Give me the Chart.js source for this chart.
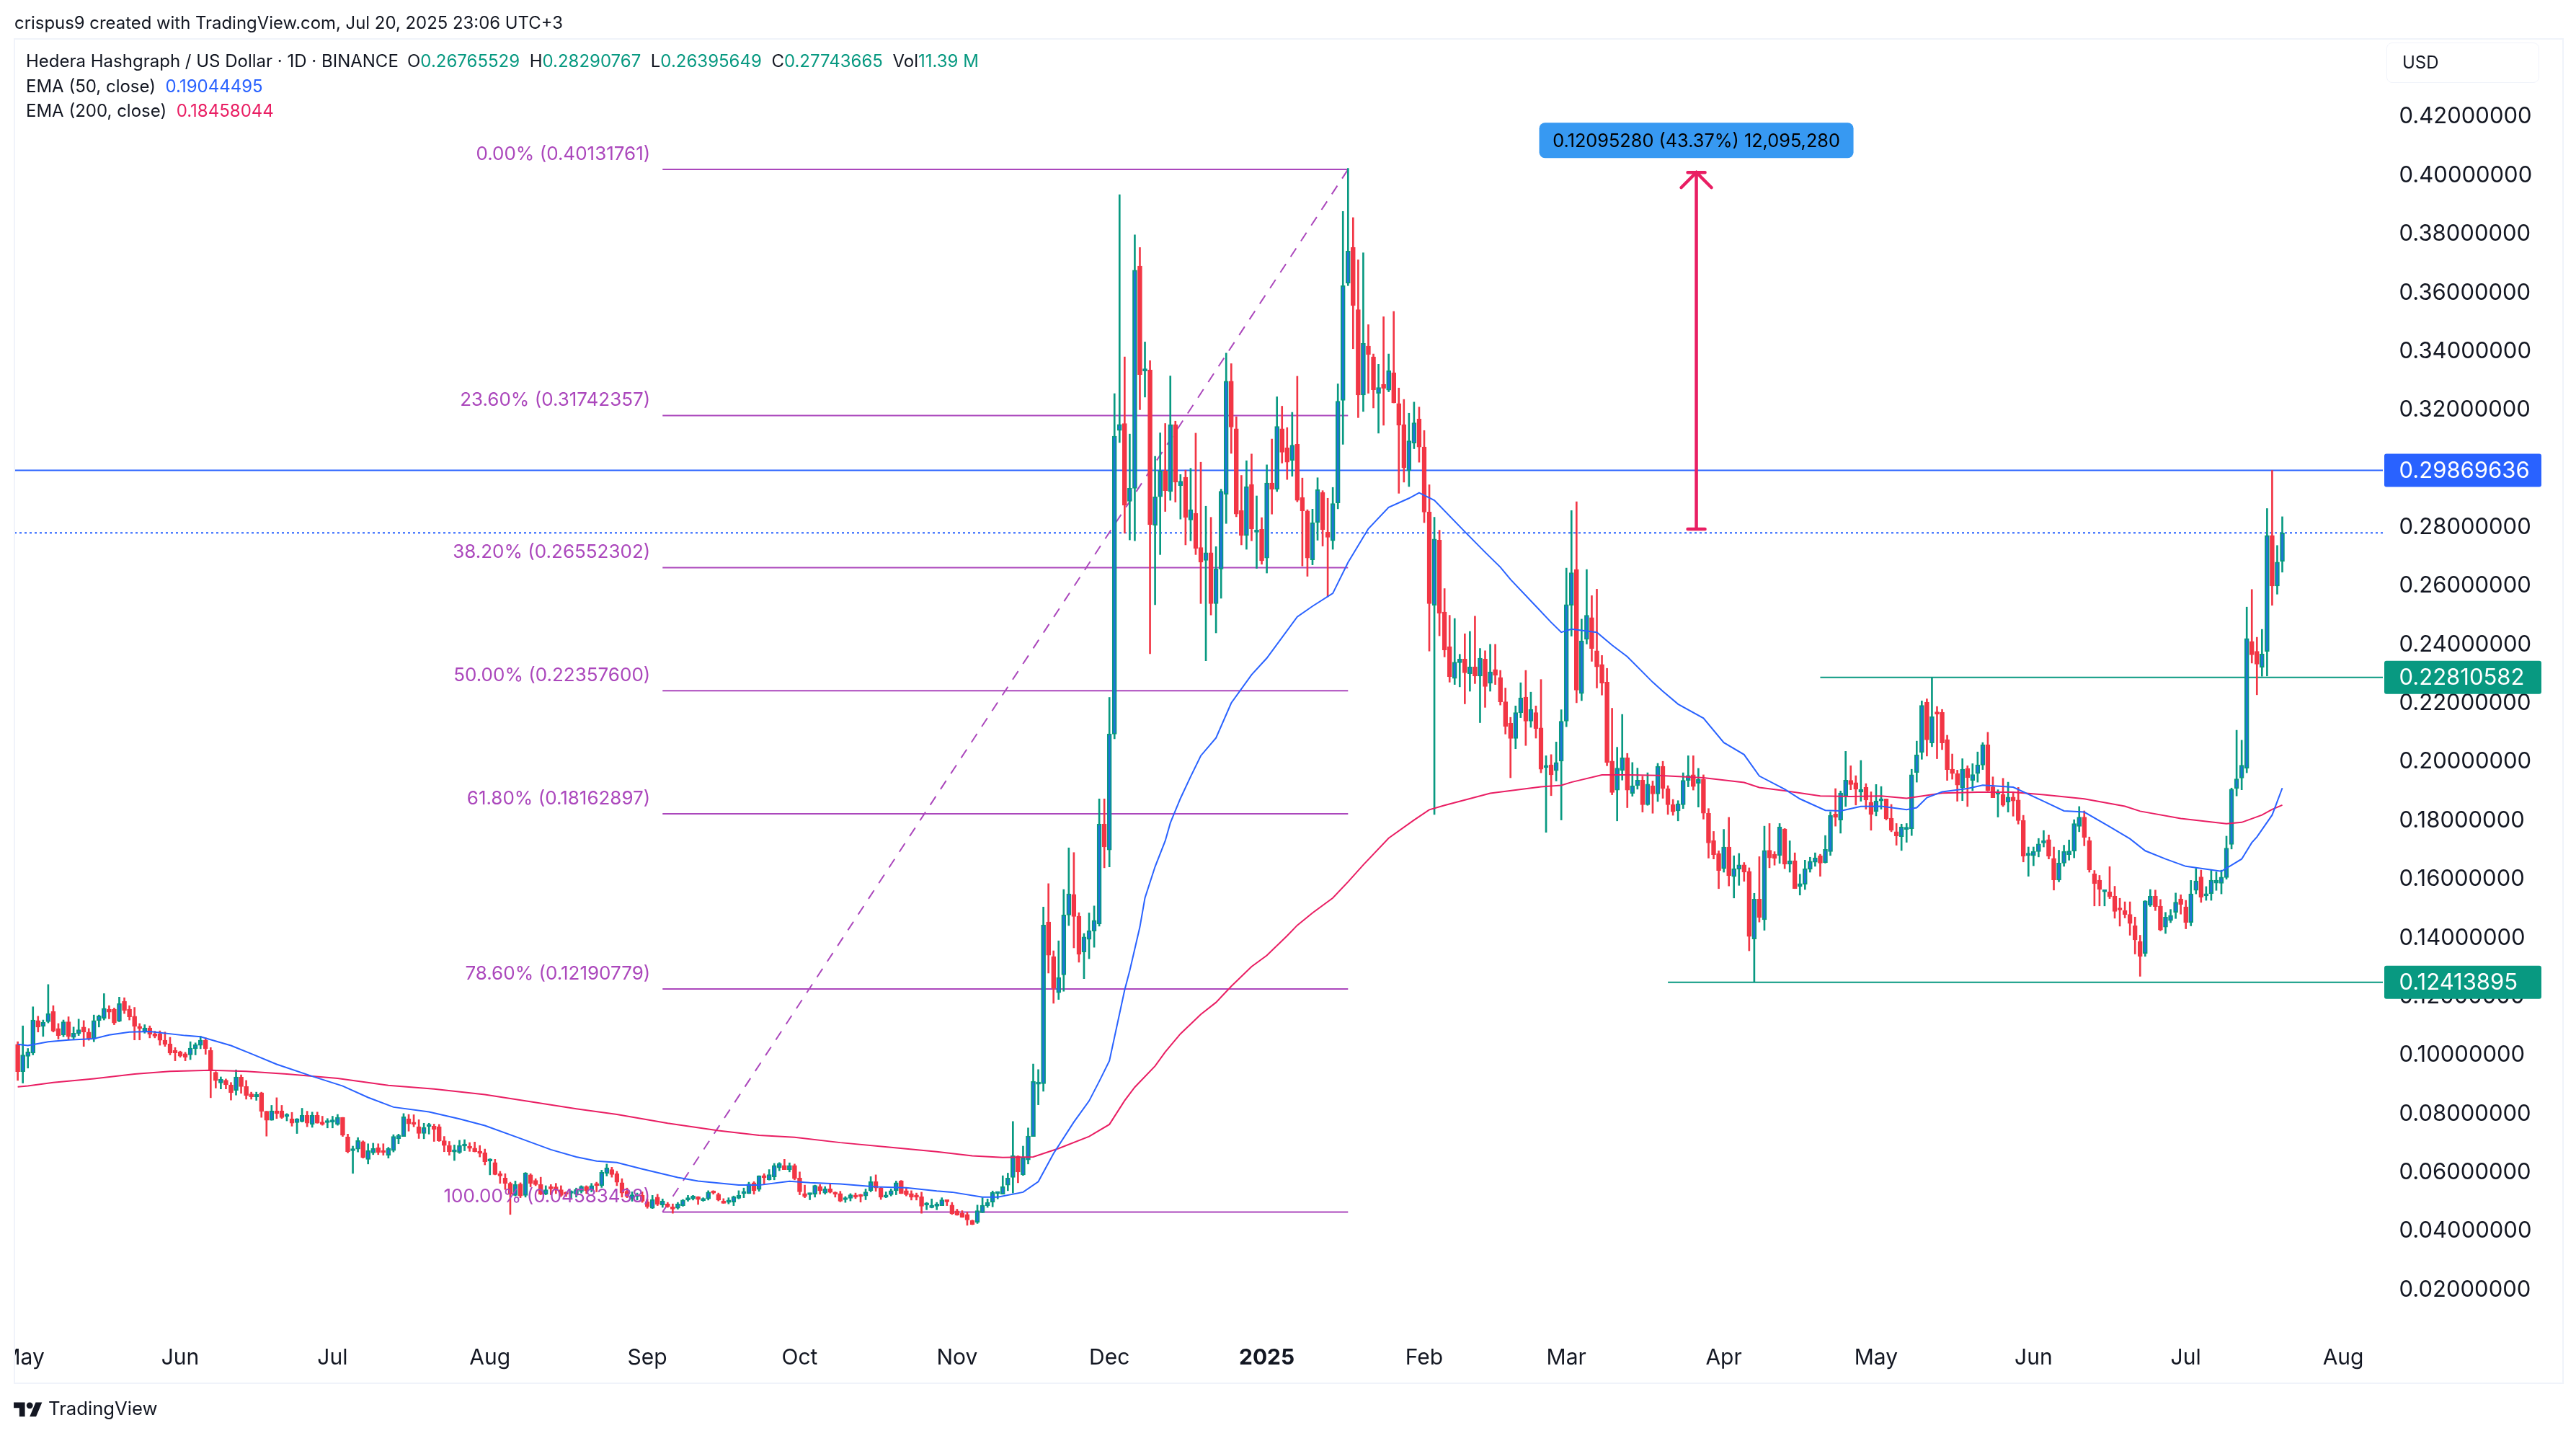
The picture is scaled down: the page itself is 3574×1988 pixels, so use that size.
<!DOCTYPE html>
<html>
<head>
<meta charset="utf-8">
<title>HBAR / USD</title>
<script src="https://cdn.jsdelivr.net/npm/chart.js@4"></script>
<style>
  html, body { margin: 0; padding: 0; background: #fff; }
  body { width: 3574px; height: 1988px; position: relative; overflow: hidden; font-family: Inter, sans-serif; color: #131722; }
  canvas { position: absolute; left: 0; top: 0; }
  .txt { position: absolute; white-space: pre; font-size: 24px; line-height: 30px; }
  .up { color: #089981; }
  #frame { position: absolute; left: 19px; top: 53px; width: 3534px; height: 1863px; border: 2px solid #F0F3FA; }
  #leftStrip { position: absolute; left: 0; top: 1860px; width: 20px; height: 56px; background: #fff; }
  #usd { position: absolute; left: 3311px; top: 59px; width: 210px; height: 54px; border: 1px solid #F0F3FA; border-radius: 8px; font-size: 24px; line-height: 54px; text-indent: 21px; }
  #logo { position: absolute; left: 19px; top: 1941px; }
</style>
</head>
<body>
<canvas id="priceChart" width="3574" height="1988"></canvas>
<div id="leftStrip"></div>
<div id="frame"></div>
<div class="txt" style="left:20px;top:17px;font-size:23.9px;">crispus9 created with TradingView.com, Jul 20, 2025 23:06 UTC+3</div>
<div class="txt" style="left:36px;top:70px;">Hedera Hashgraph / US Dollar · 1D · BINANCE</div>
<div class="txt" style="left:565px;top:70px;">O<span class="up">0.26765529</span>  H<span class="up">0.28290767</span>  L<span class="up">0.26395649</span>  C<span class="up">0.27743665</span>  Vol<span class="up">11.39 M</span></div>
<div class="txt" style="left:36px;top:105px;">EMA (50, close)  <span style="color:#2962FF">0.19044495</span></div>
<div class="txt" style="left:36px;top:139px;">EMA (200, close)  <span style="color:#E91E63">0.18458044</span></div>
<div id="usd">USD</div>
<svg id="logo" width="40" height="31" viewBox="0 0 36 28"><path fill="#131722" d="M14 22H7V11H0V4h14v18zM28 22h-8l7.5-18h8L28 22z"/><circle fill="#131722" cx="20" cy="8" r="4"/></svg>
<div class="txt" style="left:67px;top:1939px;font-size:25.7px;">TradingView</div>

<script>
// candle values. candle number = position in the array + 1
const opens = [
  .1030,.0937,.0989,.1000,.1111,.1091,.1107,.1142,.1084,.1062,
  .1107,.1054,.1066,.1089,.1072,.1048,.1111,.1119,.1150,.1150,
  .1109,.1177,.1150,.1126,.1088,.1072,.1086,.1062,.1066,.1044,
  .1031,.1009,.1004,.0998,.0994,.1015,.1027,.1044,.1009,.0935,
  .0898,.0908,.0892,.0873,.0918,.0886,.0861,.0851,.0865,.0802,
  .0771,.0803,.0803,.0784,.0776,.0763,.0767,.0788,.0757,.0788,
  .0765,.0763,.0765,.0757,.0781,.0714,.0667,.0673,.0698,.0638,
  .0660,.0677,.0665,.0652,.0668,.0708,.0716,.0776,.0761,.0749,
  .0726,.0750,.0751,.0749,.0701,.0685,.0663,.0661,.0683,.0683,
  .0676,.0665,.0660,.0632,.0627,.0589,.0574,.0556,.0515,.0554,
  .0515,.0585,.0566,.0552,.0519,.0541,.0544,.0534,.0523,.0522,
  .0519,.0529,.0545,.0534,.0552,.0548,.0590,.0603,.0589,.0558,
  .0529,.0503,.0511,.0515,.0493,.0471,.0509,.0482,.0486,.0476,
  .0471,.0480,.0499,.0503,.0511,.0497,.0503,.0529,.0519,.0496,
  .0491,.0492,.0505,.0521,.0521,.0558,.0535,.0579,.0568,.0578,
  .0609,.0617,.0603,.0617,.0574,.0521,.0517,.0519,.0545,.0523,
  .0537,.0522,.0521,.0500,.0505,.0513,.0513,.0513,.0531,.0562,
  .0541,.0509,.0517,.0531,.0564,.0531,.0521,.0513,.0511,.0482,
  .0473,.0478,.0480,.0496,.0482,.0462,.0454,.0450,.0429,.0423,
  .0456,.0480,.0492,.0521,.0519,.0550,.0576,.0649,.0585,.0636,
  .0716,.0894,.0896,.1447,.1329,.1206,.1267,.1471,.1541,.1467,
  .1345,.1388,.1416,.1441,.1781,.1693,.2088,.3123,.3147,.2882,
  .2926,.3684,.3326,.3329,.2800,.2897,.2985,.2915,.3143,.2935,
  .2964,.2818,.2841,.2724,.2680,.2706,.2533,.2651,.2906,.3291,
  .3129,.2850,.2765,.2939,.2776,.2786,.2688,.2944,.2923,.3129,
  .3064,.3021,.3076,.2894,.2849,.2682,.2809,.2912,.2776,.2747,
  .2876,.3226,.3625,.3747,.3535,.3244,.3411,.3374,.3250,.3280,
  .3261,.3320,.3215,.3143,.2986,.3080,.3162,.3067,.2845,.2527,
  .2749,.2504,.2386,.2278,.2331,.2344,.2294,.2317,.2286,.2344,
  .2261,.2308,.2281,.2198,.2125,.2073,.2161,.2214,.2132,.2161,
  .2109,.1974,.1983,.1963,.1996,.2132,.2527,.2649,.2226,.2411,
  .2485,.2372,.2325,.2265,.1996,.1897,.1964,.2007,.1886,.1912,
  .1931,.1847,.1912,.1884,.1978,.1902,.1847,.1826,.1847,.1930,
  .1949,.1920,.1933,.1818,.1725,.1681,.1629,.1703,.1602,.1627,
  .1642,.1620,.1389,.1525,.1455,.1692,.1678,.1674,.1764,.1644,
  .1656,.1568,.1576,.1627,.1651,.1673,.1650,.1687,.1815,.1795,
  .1877,.1930,.1922,.1890,.1906,.1855,.1824,.1860,.1867,.1801,
  .1755,.1738,.1763,.1765,.1957,.2025,.2197,.2058,.2160,.2162,
  .2069,.1968,.1953,.1905,.1971,.1930,.1953,.1982,.2051,.1908,
  .1883,.1882,.1856,.1873,.1863,.1793,.1674,.1673,.1687,.1717,
  .1728,.1664,.1590,.1648,.1677,.1689,.1773,.1805,.1725,.1611,
  .1590,.1550,.1550,.1535,.1494,.1486,.1473,.1434,.1381,.1340,
  .1505,.1535,.1501,.1430,.1452,.1480,.1526,.1499,.1446,.1555,
  .1601,.1536,.1544,.1580,.1579,.1599,.1712,.1902,.1938,.1971,
  .2404,.2370,.2316,.2370,.2765,.2593,.2677
];
const highs = [
  .1039,.1093,.1016,.1158,.1126,.1113,.1234,.1162,.1101,.1113,
  .1124,.1089,.1116,.1111,.1084,.1130,.1130,.1203,.1162,.1154,
  .1191,.1189,.1162,.1156,.1101,.1097,.1093,.1075,.1076,.1072,
  .1054,.1019,.1007,.1003,.1039,.1035,.1058,.1052,.1019,.0937,
  .0919,.0912,.0900,.0943,.0926,.0907,.0867,.0867,.0867,.0802,
  .0822,.0848,.0822,.0794,.0798,.0777,.0812,.0802,.0799,.0799,
  .0785,.0777,.0785,.0791,.0781,.0724,.0683,.0712,.0701,.0691,
  .0693,.0691,.0691,.0679,.0722,.0724,.0794,.0791,.0790,.0773,
  .0761,.0761,.0758,.0757,.0716,.0699,.0687,.0703,.0705,.0695,
  .0697,.0685,.0673,.0640,.0638,.0597,.0589,.0560,.0564,.0558,
  .0593,.0589,.0572,.0577,.0548,.0552,.0556,.0548,.0527,.0531,
  .0540,.0548,.0548,.0556,.0560,.0601,.0622,.0611,.0597,.0572,
  .0540,.0527,.0523,.0527,.0503,.0515,.0519,.0503,.0491,.0486,
  .0491,.0501,.0515,.0515,.0511,.0507,.0531,.0531,.0523,.0504,
  .0507,.0513,.0531,.0540,.0560,.0562,.0582,.0589,.0603,.0624,
  .0627,.0638,.0626,.0622,.0595,.0550,.0523,.0550,.0552,.0545,
  .0556,.0527,.0529,.0511,.0521,.0523,.0519,.0537,.0579,.0585,
  .0544,.0527,.0537,.0564,.0566,.0542,.0531,.0523,.0526,.0491,
  .0503,.0491,.0507,.0499,.0491,.0468,.0463,.0458,.0431,.0482,
  .0507,.0503,.0530,.0527,.0582,.0591,.0767,.0650,.0683,.0745,
  .0963,.0944,.1498,.1578,.1349,.1383,.1558,.1700,.1684,.1479,
  .1408,.1478,.1502,.1867,.1867,.2213,.3249,.3927,.3374,.3111,
  .3790,.3747,.3425,.3361,.3035,.3115,.3147,.3309,.3155,.2973,
  .2988,.2994,.3114,.3015,.2865,.2827,.2727,.2923,.3387,.3351,
  .3170,.2970,.3020,.3043,.2900,.2826,.3006,.3094,.3238,.3206,
  .3133,.3185,.3308,.2961,.2853,.2855,.2962,.2918,.2892,.2929,
  .3282,.3870,.4017,.3849,.3705,.3729,.3484,.3384,.3349,.3511,
  .3384,.3529,.3268,.3229,.3182,.3220,.3203,.3123,.2938,.2827,
  .2783,.2584,.2493,.2482,.2360,.2430,.2438,.2490,.2380,.2372,
  .2394,.2394,.2305,.2245,.2145,.2184,.2263,.2305,.2231,.2184,
  .2274,.2014,.2018,.2061,.2171,.2654,.2850,.2880,.2480,.2649,
  .2560,.2582,.2356,.2312,.2176,.2043,.2155,.2022,.1991,.1972,
  .1944,.1956,.1928,.1988,.1995,.1912,.1865,.1861,.1956,.2014,
  .2014,.1971,.1949,.1834,.1756,.1690,.1763,.1804,.1673,.1681,
  .1650,.1632,.1545,.1670,.1774,.1783,.1687,.1783,.1766,.1724,
  .1683,.1610,.1658,.1668,.1683,.1678,.1742,.1823,.1902,.1894,
  .2029,.1980,.1946,.1998,.1919,.1891,.1916,.1909,.1867,.1848,
  .1783,.1781,.1783,.1968,.2064,.2201,.2208,.2282,.2182,.2172,
  .2084,.2020,.1965,.2004,.1980,.1987,.2027,.2059,.2094,.1942,
  .1898,.1937,.1924,.1890,.1906,.1811,.1703,.1703,.1732,.1759,
  .1744,.1703,.1692,.1709,.1727,.1796,.1841,.1826,.1737,.1623,
  .1606,.1557,.1636,.1569,.1528,.1516,.1516,.1464,.1402,.1520,
  .1558,.1556,.1524,.1480,.1490,.1546,.1540,.1521,.1589,.1630,
  .1624,.1568,.1624,.1618,.1624,.1740,.1904,.2101,.2067,.2521,
  .2581,.2418,.2445,.2857,.2987,.2731,.2829
];
const lows = [
  .0907,.0898,.0949,.0994,.1072,.1057,.1103,.1072,.1048,.1056,
  .1045,.1048,.1060,.1023,.1044,.1039,.1089,.1113,.1117,.1097,
  .1107,.1135,.1113,.1045,.1045,.1068,.1052,.1052,.1027,.1023,
  .0994,.0974,.0986,.0974,.0978,.0994,.1015,.0996,.0848,.0881,
  .0878,.0878,.0840,.0857,.0863,.0843,.0843,.0839,.0781,.0717,
  .0771,.0777,.0777,.0769,.0751,.0726,.0765,.0749,.0747,.0761,
  .0754,.0745,.0745,.0754,.0716,.0660,.0590,.0663,.0642,.0622,
  .0654,.0654,.0652,.0642,.0663,.0691,.0716,.0734,.0749,.0709,
  .0708,.0724,.0699,.0699,.0664,.0652,.0634,.0658,.0667,.0665,
  .0663,.0646,.0619,.0585,.0585,.0556,.0535,.0450,.0513,.0507,
  .0509,.0544,.0548,.0517,.0517,.0517,.0521,.0511,.0511,.0507,
  .0509,.0523,.0521,.0527,.0527,.0542,.0581,.0577,.0548,.0509,
  .0507,.0495,.0499,.0491,.0471,.0470,.0480,.0474,.0474,.0454,
  .0468,.0478,.0495,.0499,.0484,.0495,.0499,.0519,.0496,.0488,
  .0486,.0480,.0503,.0507,.0521,.0519,.0529,.0552,.0567,.0568,
  .0599,.0603,.0595,.0568,.0517,.0507,.0500,.0509,.0519,.0519,
  .0523,.0509,.0493,.0491,.0496,.0504,.0492,.0500,.0527,.0529,
  .0501,.0507,.0513,.0517,.0521,.0513,.0499,.0499,.0454,.0466,
  .0472,.0466,.0480,.0480,.0450,.0447,.0440,.0413,.0415,.0419,
  .0456,.0474,.0476,.0503,.0519,.0531,.0523,.0558,.0583,.0622,
  .0716,.0824,.0870,.1273,.1170,.1183,.1211,.1435,.1359,.1310,
  .1254,.1322,.1361,.1433,.1632,.1635,.2072,.3082,.2773,.2750,
  .2747,.3194,.3237,.2362,.2529,.2700,.2847,.2885,.2879,.2821,
  .2733,.2747,.2700,.2533,.2338,.2494,.2433,.2551,.2806,.3045,
  .2829,.2733,.2718,.2747,.2653,.2667,.2637,.2838,.2915,.3012,
  .2956,.2967,.2880,.2661,.2626,.2665,.2749,.2729,.2556,.2718,
  .2856,.3076,.3617,.3402,.3167,.3188,.3250,.3200,.3114,.3141,
  .3255,.3217,.2909,.2947,.2932,.3061,.3015,.2809,.2371,.1814,
  .2423,.2351,.2265,.2257,.2249,.2191,.2234,.2260,.2127,.2179,
  .2234,.2257,.2187,.2088,.1939,.2038,.2144,.2049,.2111,.2074,
  .1956,.1753,.1878,.1928,.1795,.2113,.2422,.2195,.2202,.2395,
  .2336,.2245,.2221,.1980,.1881,.1792,.1931,.1837,.1876,.1900,
  .1822,.1845,.1818,.1858,.1869,.1814,.1811,.1792,.1834,.1908,
  .1897,.1839,.1798,.1665,.1662,.1561,.1617,.1570,.1529,.1572,
  .1586,.1349,.1242,.1447,.1419,.1632,.1641,.1647,.1629,.1617,
  .1561,.1539,.1558,.1617,.1637,.1603,.1648,.1674,.1774,.1750,
  .1841,.1898,.1846,.1859,.1832,.1760,.1809,.1832,.1795,.1755,
  .1709,.1691,.1719,.1742,.1924,.2002,.2013,.2045,.2004,.2035,
  .1930,.1934,.1859,.1861,.1841,.1895,.1924,.1967,.1894,.1871,
  .1805,.1841,.1822,.1808,.1781,.1652,.1603,.1639,.1669,.1703,
  .1662,.1556,.1584,.1637,.1658,.1666,.1755,.1707,.1617,.1502,
  .1502,.1502,.1527,.1460,.1433,.1461,.1402,.1338,.1262,.1330,
  .1500,.1486,.1417,.1408,.1445,.1459,.1474,.1424,.1434,.1543,
  .1514,.1521,.1521,.1555,.1543,.1593,.1696,.1877,.1898,.1956,
  .2330,.2222,.2285,.2286,.2527,.2565,.2640
];
const closes = [
  .0937,.0994,.1004,.1113,.1089,.1105,.1135,.1075,.1060,.1107,
  .1056,.1068,.1080,.1072,.1048,.1111,.1127,.1153,.1140,.1103,
  .1169,.1146,.1124,.1091,.1084,.1086,.1064,.1058,.1044,.1030,
  .1000,.1001,.0990,.0986,.1017,.1029,.1044,.1015,.0941,.0906,
  .0911,.0892,.0865,.0919,.0886,.0855,.0851,.0859,.0802,.0771,
  .0803,.0794,.0780,.0787,.0761,.0776,.0788,.0761,.0788,.0761,
  .0757,.0767,.0769,.0781,.0720,.0664,.0673,.0702,.0644,.0668,
  .0675,.0661,.0661,.0675,.0716,.0720,.0783,.0759,.0757,.0726,
  .0747,.0754,.0740,.0701,.0685,.0664,.0664,.0685,.0687,.0675,
  .0664,.0658,.0630,.0636,.0586,.0581,.0556,.0519,.0552,.0513,
  .0591,.0556,.0552,.0519,.0534,.0537,.0535,.0515,.0519,.0529,
  .0535,.0546,.0531,.0548,.0548,.0594,.0609,.0586,.0560,.0523,
  .0511,.0517,.0517,.0495,.0476,.0501,.0485,.0496,.0476,.0468,
  .0486,.0499,.0507,.0513,.0501,.0503,.0526,.0523,.0499,.0488,
  .0499,.0511,.0515,.0526,.0554,.0531,.0582,.0575,.0586,.0617,
  .0624,.0603,.0617,.0572,.0527,.0511,.0519,.0549,.0531,.0537,
  .0525,.0519,.0495,.0505,.0517,.0509,.0511,.0527,.0562,.0540,
  .0509,.0513,.0531,.0558,.0521,.0517,.0509,.0509,.0478,.0485,
  .0481,.0485,.0500,.0493,.0452,.0448,.0440,.0431,.0416,.0463,
  .0481,.0491,.0525,.0525,.0545,.0574,.0650,.0595,.0644,.0717,
  .0904,.0898,.1437,.1334,.1222,.1258,.1471,.1543,.1466,.1337,
  .1396,.1418,.1453,.1781,.1703,.2088,.3104,.3144,.2868,.2926,
  .3670,.3314,.3329,.2802,.2897,.2985,.2918,.3143,.2947,.2950,
  .2827,.2853,.2721,.2674,.2706,.2533,.2651,.2916,.3291,.3135,
  .2838,.2765,.2932,.2788,.2780,.2679,.2944,.2923,.3137,.3049,
  .3015,.3073,.2885,.2849,.2688,.2809,.2921,.2785,.2759,.2874,
  .3223,.3617,.3735,.3549,.3244,.3420,.3382,.3262,.3270,.3267,
  .3327,.3217,.3141,.2996,.3088,.3149,.3067,.2845,.2533,.2753,
  .2500,.2375,.2284,.2333,.2344,.2297,.2317,.2286,.2347,.2250,
  .2300,.2289,.2198,.2114,.2073,.2161,.2211,.2132,.2172,.2106,
  .1968,.1978,.1949,.1991,.2132,.2529,.2638,.2238,.2406,.2493,
  .2380,.2317,.2262,.1991,.1889,.1972,.2007,.1897,.1912,.1931,
  .1847,.1917,.1884,.1978,.1902,.1847,.1823,.1850,.1930,.1947,
  .1909,.1933,.1818,.1717,.1677,.1623,.1703,.1605,.1629,.1642,
  .1617,.1398,.1525,.1463,.1691,.1666,.1664,.1771,.1644,.1656,
  .1561,.1578,.1629,.1654,.1666,.1648,.1695,.1811,.1804,.1887,
  .1931,.1916,.1900,.1899,.1863,.1814,.1860,.1867,.1799,.1760,
  .1741,.1771,.1766,.1949,.2017,.2186,.2068,.2148,.2156,.2058,
  .1967,.1953,.1914,.1968,.1939,.1950,.1983,.2051,.1895,.1871,
  .1889,.1845,.1873,.1860,.1793,.1672,.1682,.1688,.1713,.1721,
  .1672,.1591,.1648,.1688,.1689,.1783,.1805,.1736,.1625,.1578,
  .1558,.1552,.1533,.1483,.1488,.1473,.1442,.1386,.1330,.1519,
  .1535,.1500,.1420,.1464,.1470,.1515,.1507,.1446,.1543,.1587,
  .1532,.1540,.1590,.1590,.1600,.1699,.1900,.1935,.1982,.2414,
  .2358,.2326,.2361,.2765,.2593,.2674,.2774
];

// EMA lines, read at the candle numbers in the *Days arrays
const ema50Days = [1,3,7,11,16,19,23,27,34,37,43,47,52,59,65,70,75,82,88,93,100,106,111,115,119,124,131,135,143,147,153,157,163,170,176,182,185,191,194,199,202,205,209,212,214,216,219,220,222,223,225,227,228,230,232,234,237,240,244,247,253,256,260,263,267,271,275,277,280,286,290,293,295,300,303,305,307,312,315,318,323,325,328,333,337,341,344,349,352,357,360,364,368,373,375,377,380,385,388,394,400,404,408,413,417,420,424,428,435,439,441,442,445,447];
const ema50 = [.1030,.1026,.1039,.1045,.1049,.1062,.1072,.1074,.1060,.1056,.1026,.0998,.0962,.0921,.0888,.0849,.0816,.0800,.0776,.0753,.0709,.0671,.0646,.0632,.0627,.0605,.0576,.0564,.0550,.0550,.0563,.0558,.0554,.0544,.0541,.0530,.0526,.0509,.0509,.0526,.0562,.0658,.0765,.0837,.0904,.0974,.1215,.1281,.1430,.1529,.1636,.1724,.1785,.1869,.1943,.2014,.2075,.2194,.2290,.2347,.2488,.2524,.2568,.2673,.2788,.2861,.2892,.2911,.2885,.2778,.2708,.2657,.2615,.2524,.2469,.2435,.2446,.2435,.2391,.2352,.2265,.2234,.2190,.2142,.2059,.2018,.1945,.1900,.1867,.1828,.1826,.1841,.1842,.1830,.1837,.1871,.1891,.1902,.1914,.1907,.1859,.1826,.1822,.1772,.1731,.1690,.1662,.1637,.1620,.1662,.1718,.1737,.1812,.1904];
const ema200Days = [1,3,8,16,24,31,39,46,54,64,74,83,93,101,111,119,129,139,147,154,163,173,182,189,195,201,206,212,216,219,221,225,227,230,234,237,240,244,247,251,253,256,260,263,266,271,276,279,282,291,301,305,307,313,318,324,333,341,344,349,356,362,368,373,380,387,394,400,408,416,419,427,436,439,443,445,447];
const ema200 = [.0885,.0888,.0900,.0913,.0929,.0938,.0942,.0938,.0929,.0914,.0890,.0878,.0859,.0837,.0810,.0791,.0761,.0736,.0720,.0713,.0695,.0679,.0664,.0650,.0644,.0646,.0675,.0716,.0757,.0838,.0884,.0956,.1004,.1066,.1132,.1173,.1228,.1295,.1333,.1400,.1436,.1478,.1529,.1584,.1642,.1733,.1795,.1830,.1845,.1886,.1908,.1913,.1924,.1949,.1949,.1947,.1939,.1923,.1906,.1895,.1877,.1875,.1877,.1869,.1887,.1890,.1890,.1881,.1867,.1842,.1825,.1800,.1782,.1787,.1812,.1831,.1846];

// axis ticks
const priceTicks = [0.02,0.04,0.06,0.08,0.10,0.12,0.14,0.16,0.18,0.20,0.22,0.24,0.26,0.28,0.30,0.32,0.34,0.36,0.38,0.40,0.42];
const monthDays = [2,33,63,94,125,155,186,216,247,278,306,337,367,398,428,459];
const monthLabels = ["May","Jun","Jul","Aug","Sep","Oct","Nov","Dec","2025","Feb","Mar","Apr","May","Jun","Jul","Aug"];

// fibonacci drawing
const fibPercents = ["0.00%","23.60%","38.20%","50.00%","61.80%","78.60%","100.00%"];
const fibPrices = [0.40131761,0.31742357,0.26552302,0.22357600,0.18162897,0.12190779,0.04583438];
const fibStartDay = 128;
const fibEndDay = 263;

// horizontal levels
const resistancePrice = 0.29869636;
const lastPrice = 0.2774;
const supportPrices = [0.22810582,0.12413895];
const supportStartDays = [356,326];

// measure arrow
const measureDay = 331.6;
const measureFrom = 0.2787;
const measureTo = 0.4003;
const measureText = "0.12095280 (43.37%) 12,095,280";

const GREEN = "#089981";
const RED = "#F23645";
const INNER_BLUE = "#1E73DC";
const BLUE = "#2962FF";
const PINK = "#E91E63";
const PURPLE = "#AB47BC";
const DARK = "#131722";
const xMin = 0.347;
const xMax = 466.8;
const font = "Inter, sans-serif";

const isUp = opens.map((o, i) => closes[i] >= o);

function hLine(price, from, to, color, width, dash) {
  return {
    type: "line",
    data: [{ x: from, y: price }, { x: to, y: price }],
    borderColor: color,
    borderWidth: width,
    borderDash: dash || [],
    pointRadius: 0,
    order: 5,
  };
}

const datasets = [];
fibPrices.forEach((p) => datasets.push(hLine(p, fibStartDay, fibEndDay, PURPLE, 2)));
datasets.push({
  type: "line",
  data: [{ x: fibStartDay, y: fibPrices[6] }, { x: fibEndDay, y: fibPrices[0] }],
  borderColor: PURPLE,
  borderWidth: 2,
  borderDash: [14, 12],
  pointRadius: 0,
  order: 5,
});
datasets.push(hLine(resistancePrice, xMin, xMax, BLUE, 2));
datasets.push(hLine(lastPrice, xMin, xMax, BLUE, 2, [3, 4]));
supportPrices.forEach((p, i) => datasets.push(hLine(p, supportStartDays[i], xMax, GREEN, 2)));

// wicks and bodies are floating bars
datasets.push({
  type: "bar",
  data: highs.map((h, i) => ({ x: i + 1, y: [lows[i], h] })),
  backgroundColor: isUp.map((u) => (u ? GREEN : RED)),
  borderWidth: 0,
  grouped: false,
  barPercentage: 1,
  categoryPercentage: 1,
  maxBarThickness: 2,
  order: 4,
});
datasets.push({
  type: "bar",
  data: opens.map((o, i) => ({ x: i + 1, y: [o, closes[i]] })),
  backgroundColor: isUp.map((u) => (u ? INNER_BLUE : RED)),
  borderColor: isUp.map((u) => (u ? GREEN : RED)),
  borderWidth: 2,
  borderSkipped: false,
  grouped: false,
  barPercentage: 1,
  categoryPercentage: 1,
  maxBarThickness: 6,
  minBarLength: 3,
  order: 3,
});

datasets.push({
  type: "line",
  data: ema50.map((v, i) => ({ x: ema50Days[i], y: v })),
  borderColor: BLUE,
  borderWidth: 2,
  pointRadius: 0,
  order: 1,
});
datasets.push({
  type: "line",
  data: ema200.map((v, i) => ({ x: ema200Days[i], y: v })),
  borderColor: PINK,
  borderWidth: 2,
  pointRadius: 0,
  order: 1,
});
datasets.push({
  type: "line",
  data: [{ x: measureDay, y: measureFrom }, { x: measureDay, y: measureTo }],
  borderColor: PINK,
  borderWidth: 4.5,
  pointRadius: 0,
  order: 0,
});

function roundBox(ctx, x, y, w, h, r, color) {
  ctx.fillStyle = color;
  ctx.beginPath();
  ctx.roundRect(x, y, w, h, r);
  ctx.fill();
}

const overlayPlugin = {
  id: "overlay",
  afterDatasetsDraw(chart) {
    const ctx = chart.ctx;
    const xs = chart.scales.x;
    const ys = chart.scales.y;
    ctx.save();

    // fib labels sit over the candles
    ctx.font = "26px " + font;
    ctx.fillStyle = PURPLE;
    ctx.textAlign = "right";
    ctx.textBaseline = "middle";
    fibPrices.forEach((p, i) => {
      ctx.fillText(fibPercents[i] + " (" + p.toFixed(8) + ")", xs.getPixelForValue(fibStartDay) - 17, ys.getPixelForValue(p) - 21);
    });

    // arrow caps and head
    const ax = xs.getPixelForValue(measureDay);
    const topY = ys.getPixelForValue(measureTo);
    const botY = ys.getPixelForValue(measureFrom);
    ctx.strokeStyle = PINK;
    ctx.lineWidth = 4.5;
    ctx.lineCap = "round";
    ctx.beginPath();
    ctx.moveTo(ax - 12, botY); ctx.lineTo(ax + 12, botY);
    ctx.moveTo(ax - 12, topY); ctx.lineTo(ax + 12, topY);
    ctx.moveTo(ax - 21, topY + 21); ctx.lineTo(ax, topY); ctx.lineTo(ax + 21, topY + 21);
    ctx.stroke();

    // measure label
    roundBox(ctx, ax - 218, topY - 69, 436, 49, 8, "#3799F2");
    ctx.fillStyle = "#000";
    ctx.font = "25.3px " + font;
    ctx.textAlign = "center";
    ctx.fillText(measureText, ax, topY - 43);

    // price labels on the axis
    const right = chart.chartArea.right;
    ctx.font = "31px " + font;
    ctx.textAlign = "left";
    [[resistancePrice, BLUE], [supportPrices[0], GREEN], [supportPrices[1], GREEN]].forEach(([p, color]) => {
      const y = ys.getPixelForValue(p);
      roundBox(ctx, right + 2, y - 23, 218, 46, 3, color);
      ctx.fillStyle = "#fff";
      ctx.fillText(p.toFixed(8), right + 22.6, y + 1);
    });
    ctx.restore();
  },
};

new Chart(document.getElementById("priceChart").getContext("2d"), {
  type: "bar",
  data: { datasets },
  plugins: [overlayPlugin],
  options: {
    responsive: false,
    devicePixelRatio: 1,
    animation: false,
    layout: { padding: { left: 20, top: 55, right: 20, bottom: 71 } },
    plugins: { legend: { display: false }, tooltip: { enabled: false } },
    scales: {
      x: {
        type: "linear",
        min: xMin,
        max: xMax,
        offset: false,
        grid: { display: false },
        border: { display: false },
        afterBuildTicks(scale) {
          scale.ticks = monthDays.map((d) => ({ value: d }));
        },
        afterFit(scale) {
          scale.height = 67;
          scale.paddingLeft = 0;
          scale.paddingRight = 0;
        },
        ticks: {
          autoSkip: false,
          maxRotation: 0,
          padding: 8,
          color: DARK,
          font: (c) => ({ family: font, size: 30, weight: c.tick && c.tick.value === 247 ? "bold" : "normal" }),
          callback: (v) => monthLabels[monthDays.indexOf(v)],
        },
      },
      y: {
        position: "right",
        min: 0.2987 - (1850 - 652.6) / 4068.6,
        max: 0.2987 + (652.6 - 55) / 4068.6,
        grid: { display: false, drawTicks: false },
        border: { display: false },
        afterBuildTicks(scale) {
          scale.ticks = priceTicks.map((p) => ({ value: p }));
        },
        afterFit(scale) {
          scale.width = 248;
          scale.paddingTop = 0;
          scale.paddingBottom = 0;
        },
        ticks: {
          autoSkip: false,
          padding: 22.6,
          labelOffset: 3,
          color: DARK,
          font: { family: font, size: 31 },
          callback: (v) => v.toFixed(8),
        },
      },
    },
  },
});
</script>
</body>
</html>
